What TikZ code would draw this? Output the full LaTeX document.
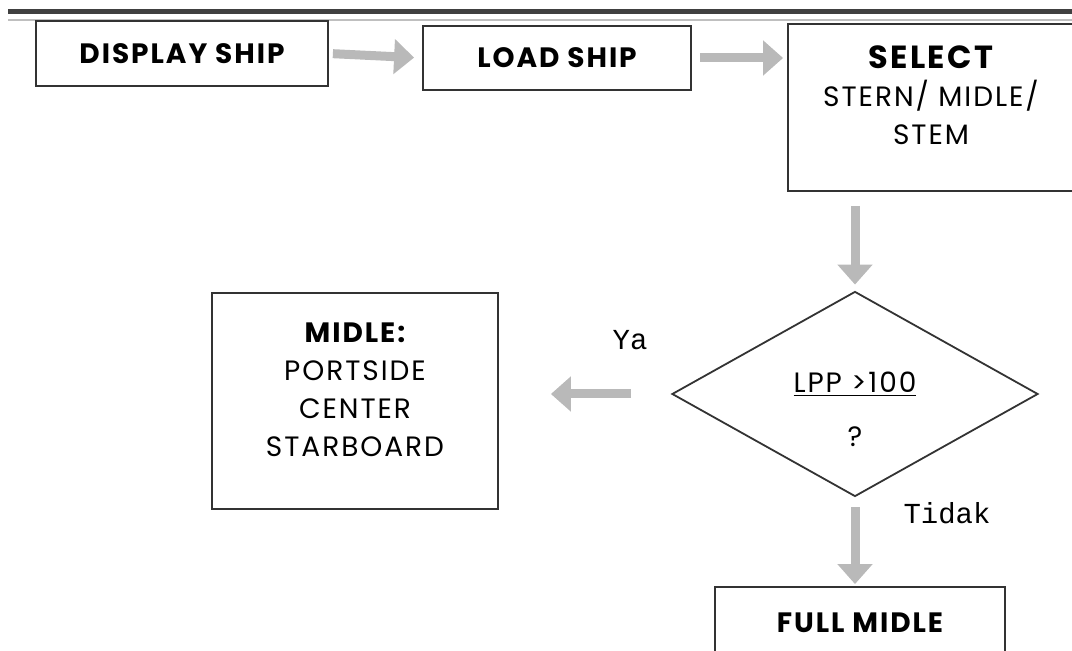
\documentclass[tikz,border=0pt]{standalone}
\usepackage{fontspec}
\setmainfont{Poppins}[LetterSpace=7]
\setmonofont{Liberation Mono}
\usetikzlibrary{positioning,arrows.meta,shapes.geometric}

\begin{document}
\begin{tikzpicture}[
    x=0.5pt, y=-0.5pt,
    every node/.style={font=\fontsize{14}{19}\selectfont},
    box/.style={draw=black!80, line width=0.9pt, align=center, inner sep=0pt},
    fatarrow/.style={draw=gray!55, line width=4.5pt, -{Triangle[length=10pt,width=17pt]}},
    answer/.style={font=\ttfamily\fontsize{14.5}{16}\selectfont}
]
\useasboundingbox (0,0) rectangle (1072,651);

% header rule
\draw[line width=2.5pt, black!75] (8,12) -- (1072,12);
\draw[line width=0.8pt, gray!50] (8,20) -- (1072,20);

\node[box, minimum width=146pt, minimum height=32.5pt] (display) at (182,53.5) {\bfseries DISPLAY SHIP};
\node[box, minimum width=134pt, minimum height=32pt] (load) at (557,58) {\bfseries LOAD SHIP};
\node[box, minimum width=143pt, minimum height=83.5pt] (select) at (931,107.5)
    {{\bfseries\fontsize{16}{19}\selectfont SELECT}\\STERN/ MIDLE/\\STEM\\[-7pt]\mbox{}};

\node[draw=black!80, line width=0.9pt, diamond, minimum width=183pt, minimum height=102.5pt,
    inner xsep=0pt, inner ysep=-20pt, align=center] (lpp) at (855,394) {\mbox{}\\[7pt]\underline{LPP >100}\\[8pt]?};

\node[box, minimum width=143pt, minimum height=108pt] (midle) at (355,401)
    {{\bfseries MIDLE:}\\PORTSIDE\\CENTER\\STARBOARD\\[-8pt]\mbox{}};
\node[box, minimum width=145pt, minimum height=36pt] (full) at (860,623) {\bfseries FULL MIDLE};

\node[answer] (ya) at (630,340) {Ya};
\node[answer] (tidak) at (947,513) {Tidak};

\draw[fatarrow, shorten <=2pt, shorten >=4pt] (display.east) -- (load.west);
\draw[fatarrow, shorten <=4pt, shorten >=2pt] (load.east) -- (load.east -| select.west);
\draw[fatarrow, shorten <=7pt, shorten >=3pt] (select.south -| lpp.north) -- (lpp.north);
\draw[fatarrow, shorten <=20pt, shorten >=26pt] (lpp.west) -- (lpp.west -| midle.east);
\draw[fatarrow, shorten <=5pt, shorten >=1pt] (lpp.south) -- (lpp.south |- full.north);

\end{tikzpicture}
\end{document}
